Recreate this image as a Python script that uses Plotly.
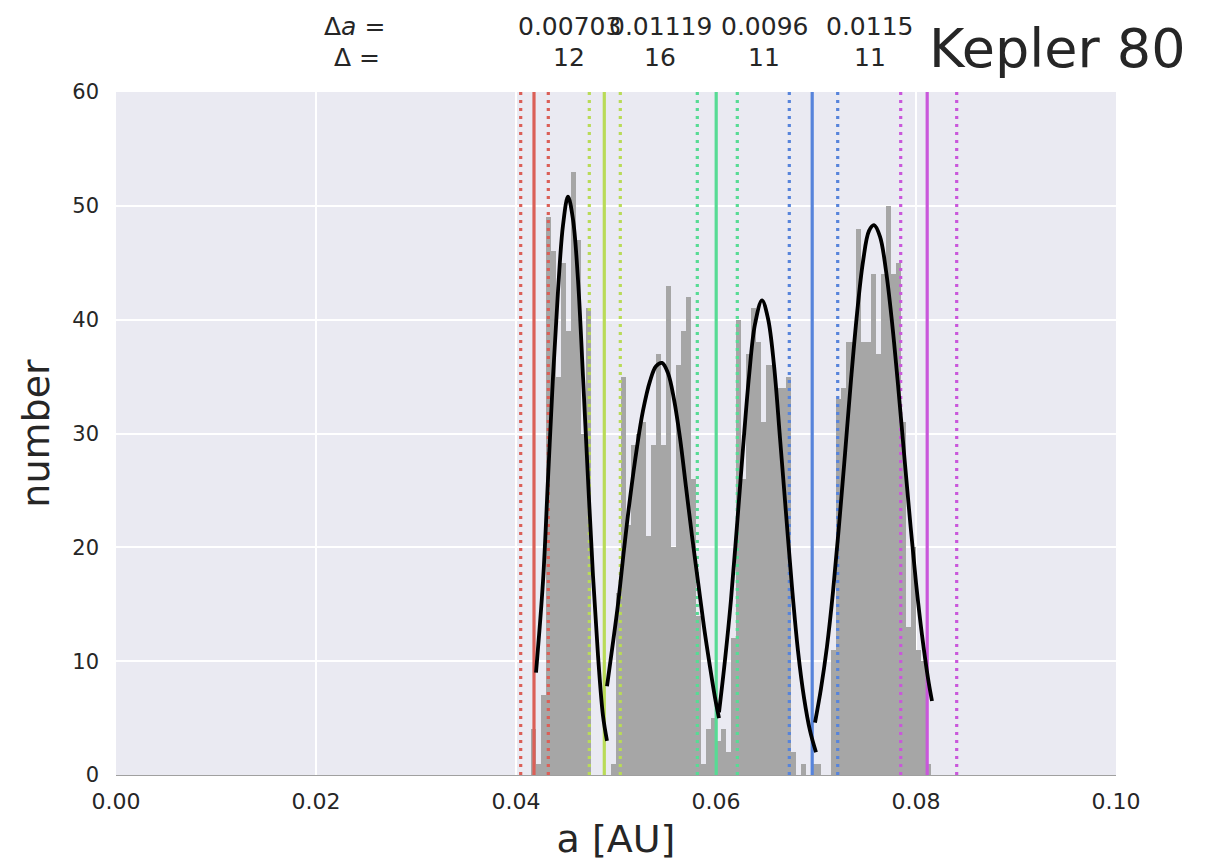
import numpy as np
import plotly.graph_objects as go

# ---------------- data ----------------
bin_start = 0.0415
bin_width = 0.0005
counts = [4, 1, 7, 49, 46, 35, 45, 39, 53, 47, 30, 41,
          0, 0, 0, 0,
          1, 16, 35, 22, 29, 30, 31, 21, 29, 37, 29, 43, 20, 36, 39, 42, 26, 14,
          1, 4, 5, 3, 4, 2,
          12, 40, 26, 37, 41, 38, 31, 36, 36, 34, 34, 35,
          2, 0, 1, 0, 1, 1, 0, 0,
          11, 33, 34, 38, 38, 48, 38, 38, 44, 37, 44, 50, 44, 45, 31, 13, 20, 11, 10, 1]

planet_a = [0.0418, 0.04883, 0.06002, 0.06962, 0.08112]
inner_a = [0.04047, 0.04733, 0.05813, 0.06733, 0.07847]
outer_a = [0.04323, 0.05043, 0.06213, 0.07217, 0.08407]
planet_colors = ['#db5f57', '#b9db57', '#57db94', '#5784db', '#c957db']

delta_a_labels = ['0.00703', '0.01119', '0.0096', '0.0115']
delta_labels = ['12', '16', '11', '11']

# fitted curve, one segment between neighbouring planets
seg1_x = [0.0420, 0.0427, 0.0432, 0.0437, 0.0442, 0.0447, 0.0452, 0.0457,
          0.0462, 0.0467, 0.0472, 0.0477, 0.0482, 0.0487, 0.0491]
seg1_y = [9.0, 17.0, 26.0, 35.0, 42.5, 48.3, 50.8, 48.8, 43.5, 35.0, 26.0, 17.5, 10.5, 5.2, 3.0]

seg2_x = [0.0491, 0.0496, 0.0502, 0.0508, 0.0514, 0.0521, 0.0527, 0.0534, 0.0540,
          0.0546, 0.0552, 0.0558, 0.0564, 0.0570, 0.0576, 0.0582, 0.0588, 0.0594,
          0.0599, 0.0603]
seg2_y = [7.8, 11.0, 15.0, 19.8, 24.3, 28.8, 32.0, 34.6, 35.9, 36.2, 35.3, 33.0,
          29.6, 25.3, 21.0, 17.0, 13.0, 9.5, 6.8, 5.0]

seg3_x = [0.0603, 0.0609, 0.0615, 0.0621, 0.0627, 0.0633, 0.0639, 0.0646, 0.0652,
          0.0658, 0.0664, 0.0670, 0.0676, 0.0682, 0.0688, 0.0694, 0.0700]
seg3_y = [5.5, 10.1, 15.4, 21.9, 28.7, 35.0, 39.6, 41.7, 40.1, 36.0, 29.6, 23.0,
          16.5, 10.9, 6.8, 3.9, 2.0]

seg4_x = [0.0699, 0.0705, 0.0711, 0.0717, 0.0723, 0.0729, 0.0735, 0.0741, 0.0747,
          0.0753, 0.0758, 0.0764, 0.0770, 0.0776, 0.0782, 0.0788, 0.0794, 0.0800,
          0.0806, 0.0812, 0.0816]
seg4_y = [4.6, 7.6, 11.3, 16.1, 21.9, 28.2, 34.7, 40.5, 45.1, 47.8, 48.3, 47.3,
          44.3, 39.8, 34.3, 28.3, 22.4, 16.9, 12.3, 8.5, 6.5]

x_ticks = [0.0, 0.02, 0.04, 0.06, 0.08, 0.10]
y_ticks = [0, 10, 20, 30, 40, 50, 60]

# ---------------- figure ----------------
TXT = '#262626'
FONT = 'DejaVu Sans'

fig = go.Figure()

centers = bin_start + bin_width * (np.arange(len(counts)) + 0.5)
fig.add_trace(go.Bar(x=centers, y=counts, width=bin_width,
                     marker=dict(color='#a6a6a6', line=dict(width=0)),
                     showlegend=False, hoverinfo='skip'))

for a, lo, hi, c in zip(planet_a, inner_a, outer_a, planet_colors):
    fig.add_trace(go.Scatter(x=[a, a], y=[0, 60], mode='lines',
                             line=dict(color=c, width=3.2), showlegend=False))
    for v in (lo, hi):
        fig.add_trace(go.Scatter(x=[v, v], y=[0, 60], mode='lines',
                                 line=dict(color=c, width=3.2, dash='3px,5px'),
                                 showlegend=False))

for sx, sy in [(seg1_x, seg1_y), (seg2_x, seg2_y), (seg3_x, seg3_y), (seg4_x, seg4_y)]:
    fig.add_trace(go.Scatter(x=sx, y=sy, mode='lines',
                             line=dict(color='black', width=3.8, shape='spline'),
                             showlegend=False))

annotations = []
mids = [(planet_a[i] + planet_a[i + 1]) / 2 for i in range(len(planet_a) - 1)]
for m, t1, t2 in zip(mids, delta_a_labels, delta_labels):
    annotations.append(dict(x=m, y=1.0966, xref='x', yref='paper', text=t1, showarrow=False,
                            font=dict(size=25, color=TXT, family=FONT), xanchor='center', yanchor='middle'))
    annotations.append(dict(x=m, y=1.0498, xref='x', yref='paper', text=t2, showarrow=False,
                            font=dict(size=25, color=TXT, family=FONT), xanchor='center', yanchor='middle'))
annotations.append(dict(x=0.0238, y=1.0966, xref='x', yref='paper', text='Δ<i>a</i> =', showarrow=False,
                        font=dict(size=25, color=TXT, family=FONT), xanchor='center', yanchor='middle'))
annotations.append(dict(x=0.0241, y=1.0498, xref='x', yref='paper', text='Δ =', showarrow=False,
                        font=dict(size=25, color=TXT, family=FONT), xanchor='center', yanchor='middle'))
annotations.append(dict(x=0.941, y=1.0644, xref='paper', yref='paper', text='Kepler 80', showarrow=False,
                        font=dict(size=54, color=TXT, family=FONT), xanchor='center', yanchor='middle'))

fig.update_layout(
    width=1217, height=862,
    margin=dict(l=116, r=101, t=92, b=87, autoexpand=False),
    plot_bgcolor='#eaeaf2', paper_bgcolor='white',
    bargap=0, barmode='overlay',
    font=dict(family=FONT, color=TXT),
    annotations=annotations,
)
fig.update_xaxes(range=[0, 0.1], tickvals=x_ticks, tickformat='.2f',
                 showgrid=True, gridcolor='white', gridwidth=2,
                 zeroline=False, showline=False, ticks='', ticklabelstandoff=11,
                 tickfont=dict(size=22, color=TXT, family=FONT),
                 title=dict(text='a [AU]', font=dict(size=38, color=TXT, family=FONT), standoff=12))
fig.update_yaxes(range=[0, 60], tickvals=y_ticks,
                 showgrid=True, gridcolor='white', gridwidth=2,
                 zeroline=True, zerolinecolor='#a0a0a0', zerolinewidth=1.2,
                 showline=False, ticks='', ticklabelstandoff=16,
                 tickfont=dict(size=21, color=TXT, family=FONT),
                 title=dict(text='number', font=dict(size=38, color=TXT, family=FONT), standoff=10))

fig.write_html('out.html')
